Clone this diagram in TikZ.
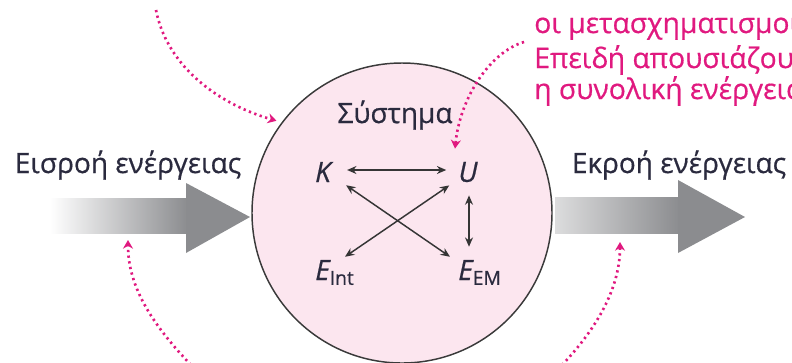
\documentclass[tikz,border=0pt]{standalone}
\usepackage{fontspec}
\setmainfont[FakeBold=0.6]{Open Sans}
\usetikzlibrary{arrows.meta}
\definecolor{pinkc}{HTML}{E0197F}
\definecolor{fillc}{HTML}{FCE6EF}
\definecolor{bigc}{HTML}{8B8C8F}
\definecolor{ink}{HTML}{2A2A3E}
\definecolor{rimc}{HTML}{3A3A3A}
\definecolor{arrowc}{HTML}{353535}
\newcommand\mysubtxt[1]{\raisebox{-0.32ex}{\upshape\fontsize{14.5}{15}\selectfont #1}}
\begin{document}
\begin{tikzpicture}[x=0.75pt,y=-0.75pt,
  every node/.style={inner sep=0pt},
  txt/.style={font=\fontsize{21}{24}\selectfont, text=ink},
  pinktxt/.style={font=\fontsize{21.2}{24}\selectfont, text=pinkc, anchor=base west},
  var/.style={font=\fontsize{21}{24}\selectfont\itshape, text=ink},
  rel/.style={{Stealth[length=7pt,width=6pt]}-{Stealth[length=7pt,width=6pt]}, line width=1.1pt, draw=arrowc},
  hint/.style={pinkc, line width=2pt, dash pattern=on 1.7pt off 2.6pt, -{Stealth[length=6.5pt,width=7.5pt]}},
]
\useasboundingbox (0,0) rectangle (792,362);
\clip (0,0) rectangle (792,362);

% system circle
\node[circle, draw=rimc, line width=1.1pt, fill=fillc, minimum size=225pt] (sys) at (402,213) {};

% big energy arrows
\shade[left color=white, right color=bigc] (50,198) rectangle (188,233);
\fill[bigc] (186,183) -- (250,217) -- (186,253) -- cycle;
\shade[left color=bigc!30, right color=bigc] (555,197) rectangle (680,233);
\fill[bigc] (678,180) -- (745,217) -- (678,253) -- cycle;
\coordinate (inarr) at (128,240);
\coordinate (outarr) at (620,242);

% labels
\node[txt, anchor=base] (inl) at (128,173) {Εισροή ενέργειας};
\node[txt, anchor=base] (outl) at (679,173) {Εκροή ενέργειας};
\node[txt, anchor=base] (sysl) at (395,123) {Σύστημα};

% energy forms
\node[var] (K) at (323,172) {K};
\node[var] (U) at (468,172) {U};
\node[var, anchor=base west] (Ei) at (315,280) {E\mysubtxt{Int}};
\node[var, anchor=base west] (Eem) at (458,280) {E\mysubtxt{EM}};

\draw[rel] ([shift={(16,-2)}]K.east) -- ([shift={(-12,-2)}]U.west);
\draw[rel] ([shift={(15,3)}]K.south east) -- ([shift={(-8,-3)}]Eem.north west);
\draw[rel] ([shift={(-9,3)}]U.south west) -- ([shift={(30,-3)}]Ei.north west);
\draw[rel] ([shift={(1,13)}]U.south) -- ([shift={(11,-13)}]Eem.north west);

% pink text
\node[pinktxt] (t1) at (534,33) {οι μετασχηματισμοί};
\node[pinktxt] (t2) at (534,68) {Επειδή απουσιάζουν};
\node[pinktxt] (t3) at (534,99) {η συνολική ενέργεια};

% pink dotted pointers
\coordinate (p1s) at (156,10);
\coordinate (p2s) at (524,42);
\coordinate (p3s) at (191,365);
\coordinate (p4s) at (562,365);
\draw[hint, shorten >=4pt] (p1s) .. controls (166,62) and (212,102) .. (sys.143);
\draw[hint] (p2s) .. controls (490,52) and (460,98) .. ([shift={(-13,-13)}]U.north);
\draw[hint] (p3s) .. controls (150,322) and (128,285) .. (inarr);
\draw[hint] (p4s) .. controls (600,325) and (620,285) .. (outarr);
\end{tikzpicture}
\end{document}
